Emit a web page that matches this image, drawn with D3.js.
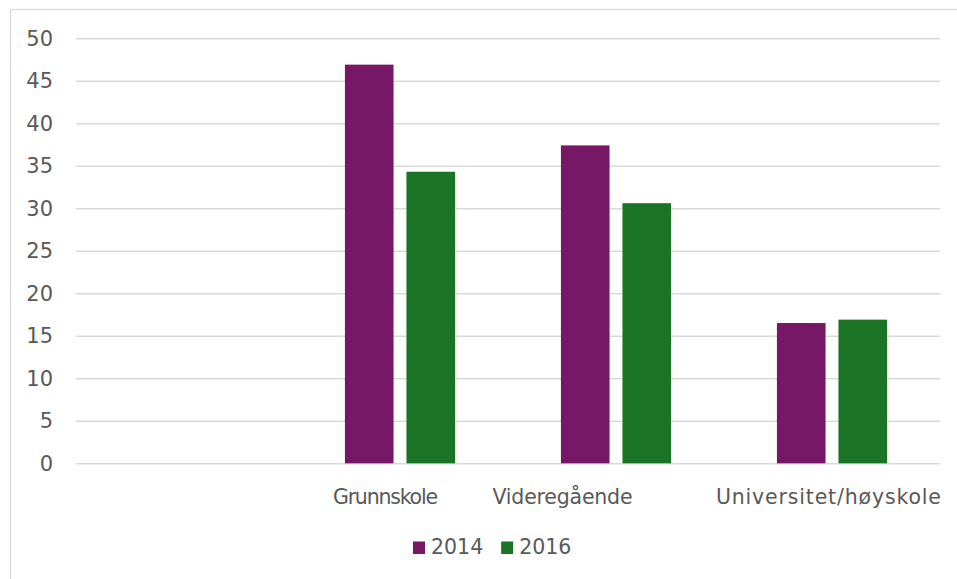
<!DOCTYPE html>
<html><head><meta charset="utf-8">
<script src="https://cdn.jsdelivr.net/npm/d3@7"></script>
<style>body{margin:0;background:#fff}svg{display:block}text{font-family:"DejaVu Sans",sans-serif;fill:#595959}</style>
</head><body>
<svg id="c" width="957" height="579"></svg>
<script>
const categories = ["", "Grunnskole", "Videregående", "Universitet/høyskole"];
const seriesNames = ["2014", "2016"];
const values2014 = [null, 46.9, 37.4, 16.5];
const values2016 = [null, 34.3, 30.6, 16.9];
const yTicks = [0, 5, 10, 15, 20, 25, 30, 35, 40, 45, 50];
const colors = ["#761866", "#1b7425"];
const labelShift = [0, -14.5, -53.5, -3.6];
const labelWidth = [0, 105, 140, 225];

const svg = d3.select("#c");
const W = 957, H = 579;
const m = {left: 76, right: 17, top: 38.3, bottom: 115.7};
const x0 = d3.scaleBand().domain(categories).range([m.left, W - m.right]).padding(0);
const bw = x0.bandwidth();
const x1 = d3.scaleBand().domain(seriesNames).range([bw * 0.245, bw * 0.755]).paddingInner(0.21).paddingOuter(0);
const y = d3.scaleLinear().domain([0, 50]).range([H - m.bottom, m.top]);

svg.append("rect").attr("x", 10.5).attr("y", 9.5).attr("width", W).attr("height", H)
  .attr("fill", "none").attr("stroke", "#d9d9d9").attr("stroke-width", 1.3);

const ya = d3.axisLeft(y).tickValues(yTicks).tickSize(-(W - m.right - m.left)).tickPadding(23);
const gy = svg.append("g").attr("transform", `translate(${m.left},0)`).call(ya);
gy.select(".domain").remove();
gy.selectAll(".tick line").attr("stroke", "#d9d9d9").attr("stroke-width", 1.5);
gy.selectAll(".tick text").attr("font-size", 21).attr("fill", "#595959").attr("font-family", "DejaVu Sans");

const series = [values2014, values2016];
const g = svg.append("g");
categories.forEach((c, i) => {
  seriesNames.forEach((s, j) => {
    const v = series[j][i];
    if (v == null) return;
    g.append("rect")
      .attr("x", x0(c) + x1(s))
      .attr("y", y(v))
      .attr("width", x1.bandwidth())
      .attr("height", y(0) - y(v))
      .attr("fill", colors[j]);
  });
});

categories.forEach((c, i) => {
  if (!c) return;
  svg.append("text").attr("x", x0(c) + bw / 2 + labelShift[i]).attr("y", 503.5)
    .attr("text-anchor", "middle").attr("font-size", 20.5)
    .attr("textLength", labelWidth[i]).attr("lengthAdjust", "spacing").text(c);
});

const lg = svg.append("g");
let cx = 0;
seriesNames.forEach((s, j) => {
  const it = lg.append("g").attr("transform", `translate(${cx},0)`);
  it.append("rect").attr("x", 0).attr("y", -12.5).attr("width", 12).attr("height", 12.5).attr("fill", colors[j]);
  const t = it.append("text").attr("x", 18).attr("y", 0).attr("font-size", 20.5).text(s);
  cx += 18 + t.node().getComputedTextLength() + 18;
});
lg.attr("transform", `translate(413,554)`);
</script>
</body></html>
